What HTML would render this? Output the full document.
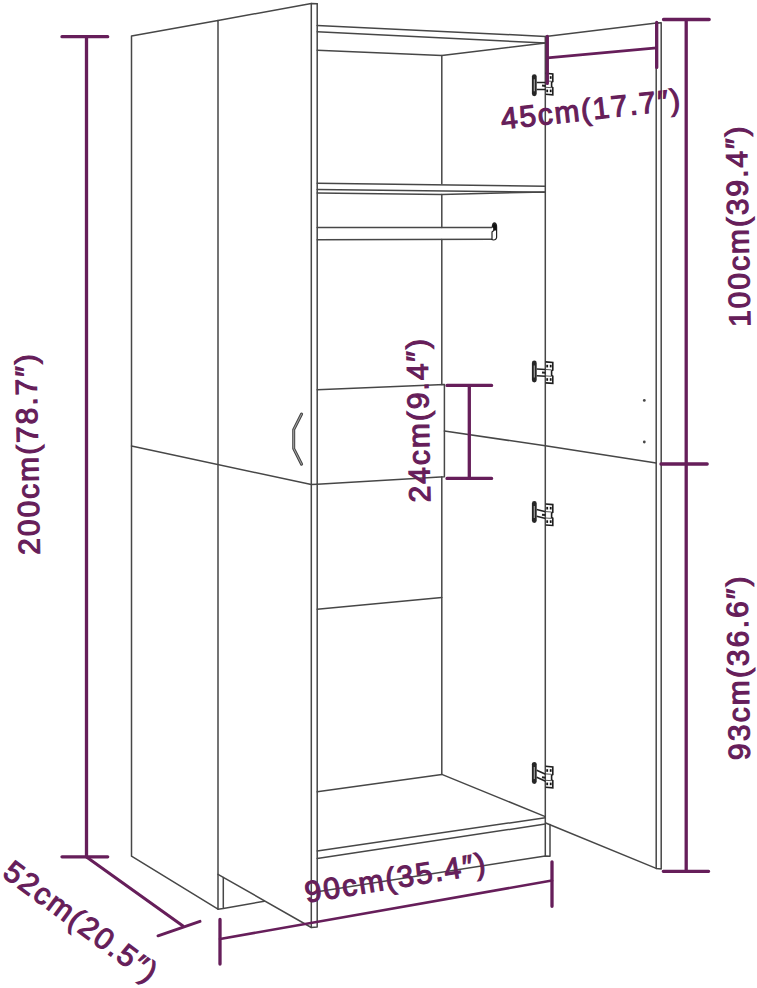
<!DOCTYPE html>
<html><head><meta charset="utf-8">
<style>
html,body{margin:0;padding:0;background:#fff;}
body{width:757px;height:988px;overflow:hidden;}
svg{display:block;}
text{font-family:"Liberation Sans",sans-serif;font-weight:normal;fill:#661e5a;stroke:#661e5a;stroke-width:1.15px;}
</style></head><body>
<svg width="757" height="988" viewBox="0 0 757 988">
<g stroke-linejoin="round" stroke-linecap="round"><path d="M131.5 856.2 L131.5 36 L218 20.6 L218 909.2 L131.5 856.2" stroke="#474747" stroke-width="1.5" fill="none"/>
<path d="M131.5 446 L311.3 484.5 L317.2 484.2" stroke="#474747" stroke-width="1.5" fill="none"/>
<path d="M218 20.6 L311.3 3.4 L317.2 3.8" stroke="#474747" stroke-width="1.5" fill="none"/>
<path d="M311.3 3.4 L311.3 927.5 L317.2 927.1 L317.2 3.8" stroke="#474747" stroke-width="1.5" fill="none"/>
<path d="M218 874.3 L311.3 927.5" stroke="#474747" stroke-width="1.5" fill="none"/>
<path d="M218 909.2 L223.3 908.6 L264.2 901.2 M223.3 877.4 L223.3 908.6" stroke="#474747" stroke-width="1.5" fill="none"/>
<path d="M317.2 25.4 L545.5 36.4" stroke="#474747" stroke-width="1.5" fill="none"/>
<path d="M317.2 31.8 L545.5 43" stroke="#474747" stroke-width="1.5" fill="none"/>
<path d="M317.2 50.3 L441.8 55.5 L545.5 43" stroke="#474747" stroke-width="1.5" fill="none"/>
<path d="M441.8 55.5 L441.8 183.8" stroke="#474747" stroke-width="1.5" fill="none"/>
<path d="M441.8 194.4 L441.8 227.5" stroke="#474747" stroke-width="1.5" fill="none"/>
<path d="M441.8 239.4 L441.8 384.6" stroke="#474747" stroke-width="1.5" fill="none"/>
<path d="M441.8 476.8 L441.8 774.4" stroke="#474747" stroke-width="1.5" fill="none"/>
<path d="M545.3 36.4 L545.3 856.2" stroke="#474747" stroke-width="1.5" fill="none"/>
<path d="M317.2 183.3 L545.3 186.3" stroke="#474747" stroke-width="1.5" fill="none"/>
<path d="M317.2 189.4 L545.3 192.2" stroke="#474747" stroke-width="1.5" fill="none"/>
<path d="M317.2 193.1 L441.8 194.4 L545.3 192.0" stroke="#474747" stroke-width="1.5" fill="none"/>
<path d="M317.2 227.6 L491.8 227.6" stroke="#474747" stroke-width="1.5" fill="none"/>
<path d="M317.2 239.7 L491.8 239.2" stroke="#474747" stroke-width="1.5" fill="none"/>
<path d="M317.2 389.8 L444.4 384.5 L444.4 476.7 L317.2 484.2" stroke="#474747" stroke-width="1.5" fill="none"/>
<path d="M444.4 431 L545.3 445.8 L656.2 463" stroke="#474747" stroke-width="1.5" fill="none"/>
<path d="M317.2 609.2 L441.8 597.4" stroke="#474747" stroke-width="1.5" fill="none"/>
<path d="M317.2 791.8 L441.8 774.4 L545.3 816.6" stroke="#474747" stroke-width="1.5" fill="none"/>
<path d="M317.2 851 L545.3 817.7" stroke="#474747" stroke-width="1.5" fill="none"/>
<path d="M317.2 858.5 L545.3 824" stroke="#474747" stroke-width="1.5" fill="none"/>
<path d="M317.2 891.8 L545.3 855.9 L550 856.2 L550 824.5" stroke="#474747" stroke-width="1.5" fill="none"/>
<path d="M545.7 36.4 L658.6 22.7" stroke="#474747" stroke-width="1.5" fill="none"/>
<path d="M656.2 23 L656.2 868.4 L661.2 869 L661.2 22.7 L656.2 23" stroke="#474747" stroke-width="1.5" fill="none"/>
<path d="M545.7 823 L656.2 868.4" stroke="#474747" stroke-width="1.5" fill="none"/></g>
<circle cx="644.3" cy="400.4" r="1.4" fill="#474747"/><circle cx="644.3" cy="442" r="1.4" fill="#474747"/>
<path d="M301.6 414 L293.7 429.6 L293.7 448.6 L301.6 464.2" fill="none" stroke="#444" stroke-width="3" stroke-linecap="round" stroke-linejoin="round"/>
<path d="M301.6 414 L293.7 429.6 L293.7 448.6 L301.6 464.2" fill="none" stroke="#aaa" stroke-width="1" stroke-linecap="round" stroke-linejoin="round"/>
<path d="M492 239.5 L492 232 L493.8 230.5 L493.8 227.8 L492.3 226.5 Q492.6 223 494.6 222.9 Q496.6 223.3 496.6 227 L496.6 237.5 Q496.2 240 493.5 240 Z" fill="#fff" stroke="#222" stroke-width="1.2"/>
<path d="M492.5 226.8 Q492.8 223.2 494.6 223.2 Q496.4 223.6 496.4 227 L496.4 230.5 L493.6 230.5 L493.6 227.8 Z" fill="#111"/>
<rect x="531.9" y="74.2" width="4.8" height="22" rx="2.4" fill="#262626"/>
<path d="M534.3 79.2 L534.3 91.2" stroke="#aaa" stroke-width="1.1"/>
<path d="M536.7 82.6 L545.6 82.6 M536.7 89.5 L545.6 89.5" stroke="#222" stroke-width="1.5"/>
<path d="M542 85.6 L545.6 86.0" stroke="#222" stroke-width="2"/>
<path d="M545.6 73.3 L552.8 73.9 L552.8 81.5 L551.6 82.3 L551.6 86.8 L552.8 87.6 L552.8 94.8 L545.6 94.3" fill="none" stroke="#1e1e1e" stroke-width="1.6"/>
<path d="M545.6 80.9 L551.6 81.3 M545.6 87.3 L551.6 87.7" stroke="#555" stroke-width="1"/>
<rect x="546.3" y="76.2" width="1.8" height="2.6" fill="#111"/><rect x="549.8" y="76.2" width="1.8" height="2.6" fill="#111"/>
<rect x="546.3" y="89.6" width="1.8" height="2.6" fill="#111"/><rect x="549.8" y="89.6" width="1.8" height="2.6" fill="#111"/>
<rect x="531.9" y="360.5" width="4.8" height="22" rx="2.4" fill="#262626"/>
<path d="M534.3 365.5 L534.3 377.5" stroke="#aaa" stroke-width="1.1"/>
<path d="M536.7 368.9 L545.6 369.4 M536.7 375.8 L545.6 376.3" stroke="#222" stroke-width="1.5"/>
<path d="M542 372.4 L545.6 372.8" stroke="#222" stroke-width="2"/>
<path d="M545.6 361.9 L552.8 362.5 L552.8 370.1 L551.6 370.9 L551.6 375.4 L552.8 376.2 L552.8 383.4 L545.6 382.9" fill="none" stroke="#1e1e1e" stroke-width="1.6"/>
<path d="M545.6 369.5 L551.6 369.9 M545.6 375.9 L551.6 376.3" stroke="#555" stroke-width="1"/>
<rect x="546.3" y="364.8" width="1.8" height="2.6" fill="#111"/><rect x="549.8" y="364.8" width="1.8" height="2.6" fill="#111"/>
<rect x="546.3" y="378.2" width="1.8" height="2.6" fill="#111"/><rect x="549.8" y="378.2" width="1.8" height="2.6" fill="#111"/>
<rect x="531.9" y="501.0" width="4.8" height="22" rx="2.4" fill="#262626"/>
<path d="M534.3 506.0 L534.3 518.0" stroke="#aaa" stroke-width="1.1"/>
<path d="M536.7 509.4 L545.6 511.7 M536.7 516.3 L545.6 518.6" stroke="#222" stroke-width="1.5"/>
<path d="M542 514.7 L545.6 515.1" stroke="#222" stroke-width="2"/>
<path d="M545.6 504.0 L552.8 504.6 L552.8 512.2 L551.6 513.0 L551.6 517.5 L552.8 518.3 L552.8 525.5 L545.6 525.0" fill="none" stroke="#1e1e1e" stroke-width="1.6"/>
<path d="M545.6 511.6 L551.6 512.0 M545.6 518.0 L551.6 518.4" stroke="#555" stroke-width="1"/>
<rect x="546.3" y="506.9" width="1.8" height="2.6" fill="#111"/><rect x="549.8" y="506.9" width="1.8" height="2.6" fill="#111"/>
<rect x="546.3" y="520.3" width="1.8" height="2.6" fill="#111"/><rect x="549.8" y="520.3" width="1.8" height="2.6" fill="#111"/>
<rect x="531.9" y="761.9" width="4.8" height="22" rx="2.4" fill="#262626"/>
<path d="M534.3 766.9 L534.3 778.9" stroke="#aaa" stroke-width="1.1"/>
<path d="M536.7 770.3 L545.6 774.3 M536.7 777.2 L545.6 781.2" stroke="#222" stroke-width="1.5"/>
<path d="M542 777.3 L545.6 777.7" stroke="#222" stroke-width="2"/>
<path d="M545.6 766.3 L552.8 766.9 L552.8 774.5 L551.6 775.3 L551.6 779.8 L552.8 780.6 L552.8 787.8 L545.6 787.3" fill="none" stroke="#1e1e1e" stroke-width="1.6"/>
<path d="M545.6 773.9 L551.6 774.3 M545.6 780.3 L551.6 780.7" stroke="#555" stroke-width="1"/>
<rect x="546.3" y="769.2" width="1.8" height="2.6" fill="#111"/><rect x="549.8" y="769.2" width="1.8" height="2.6" fill="#111"/>
<rect x="546.3" y="782.6" width="1.8" height="2.6" fill="#111"/><rect x="549.8" y="782.6" width="1.8" height="2.6" fill="#111"/>
<g fill="none" stroke="#661e5a" stroke-linecap="round"><path d="M86.5 36.7 L86.5 857 M62 36.7 L107.7 36.7 M62 856.8 L107.7 856.8" stroke-width="3.3"/><path d="M686.2 19.5 L686.2 871.3 M663.5 19.5 L709.2 19.5 M661 464 L707.2 464 M663.3 871.3 L708.6 871.3" stroke-width="3.3"/><path d="M547.3 36.4 L547.3 83.4 M656.7 22.4 L656.7 67.4" stroke-width="3.3"/><path d="M547.3 57.8 L656.7 47.8" stroke-width="2.8"/><path d="M469.3 385.4 L469.3 478.4 M447 385.4 L491.6 385.4 M447 478.4 L491.6 478.4" stroke-width="3.3"/><path d="M220 919.5 L220 964 M552 861.8 L552 906.3" stroke-width="3.3"/><path d="M220 939 L552 880.5" stroke-width="2.6"/><path d="M86.5 857 L183 926" stroke-width="3.0"/><path d="M158 935.8 L200 921.4" stroke-width="3.0"/></g>
<text font-size="30" text-anchor="middle" textLength="200.8" lengthAdjust="spacing" transform="translate(37.9,454.3) rotate(-91.03)">200cm(78.7″)</text>
<text font-size="30" text-anchor="middle" textLength="200.6" lengthAdjust="spacing" transform="translate(748.3,226.5) rotate(-91.07)">100cm(39.4″)</text>
<text font-size="30" text-anchor="middle" textLength="183.6" lengthAdjust="spacing" transform="translate(748.5,668.1) rotate(-90.75)">93cm(36.6″)</text>
<text font-size="30" text-anchor="middle" textLength="163.5" lengthAdjust="spacing" transform="translate(428.7,420.6) rotate(-91.05)">24cm(9.4″)</text>
<text font-size="30" text-anchor="middle" textLength="180" lengthAdjust="spacing" transform="translate(591.5,119.4) rotate(-6.3)">45cm(17.7″)</text>
<text font-size="30" text-anchor="middle" textLength="182.5" lengthAdjust="spacing" transform="translate(396.6,888.0) rotate(-9.3)">90cm(35.4″)</text>
<text font-size="30" text-anchor="middle" textLength="182" lengthAdjust="spacing" transform="translate(74.5,929.6) rotate(36.3)">52cm(20.5″)</text>
</svg>
</body></html>
